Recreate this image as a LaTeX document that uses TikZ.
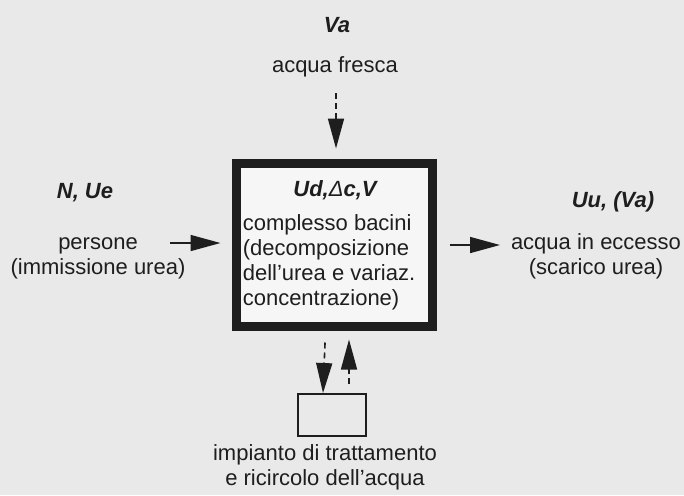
\documentclass[tikz,border=0pt]{standalone}
\usepackage{fontspec}
\setmainfont{Liberation Sans}
\usetikzlibrary{positioning, calc, arrows.meta}
\definecolor{paper}{HTML}{E9E9E9}
\definecolor{inkblack}{HTML}{1E1E1E}
\tikzset{
    plain text/.style={font=\fontsize{11}{12.5}\selectfont, align=center, inner sep=0pt, text=inkblack},
    var text/.style={font=\fontsize{11}{12.5}\selectfont\bfseries\itshape, inner sep=0pt, text=inkblack},
    flow arrow/.style={-{Triangle[length=15pt, width=8pt]}, line width=0.8pt, draw=inkblack},
    water arrow/.style={flow arrow, dash pattern=on 3pt off 2pt},
}

\begin{document}
\begin{tikzpicture}[x=0.5pt, y=-0.5pt]
    \fill[paper] (0,0) rectangle (684,495);
    \useasboundingbox (0,0) rectangle (684,495);
    % vasca principale
    \node[draw=inkblack, line width=4.5pt, fill=white!60!paper, minimum width=98pt, minimum height=81.5pt] (bacini) at (334.5,245) {};
    \node[var text] (udv) at (335,190) {Ud,{\mdseries\char"0394}c,V};
    \node[plain text, align=left] (bacinitxt) at (329,262) {complesso bacini\\(decomposizione\\dell'urea e variaz.\\concentrazione)};
    % ingressi e uscite
    \node[var text] (va) at (337,25) {Va};
    \node[plain text] (fresca) at (335,67) {acqua fresca};
    \node[var text] (nue) at (85,193) {N, Ue};
    \node[plain text] (persone) at (98,258) {persone\\(immissione urea)};
    \node[var text] (uuva) at (613,202) {Uu, (Va)};
    \node[plain text] (eccesso) at (596,256) {acqua in eccesso\\(scarico urea)};
    % impianto
    \node[draw=inkblack, line width=1pt, minimum width=34pt, minimum height=21pt] (impianto) at (332,415) {};
    \node[plain text] (impiantotxt) at (325,467) {impianto di trattamento\\e ricircolo dell'acqua};
    \coordinate (vin) at (336,93);
    \coordinate (pin) at (170,243);
    \coordinate (uout) at (500,245);
    \draw[water arrow, shorten >=5.25pt] (vin) -- (vin |- bacini.north);
    \draw[flow arrow, shorten >=5.75pt] (pin) -- (pin -| bacini.west);
    \draw[flow arrow, shorten <=6.25pt] (uout -| bacini.east) -- (uout);
    \draw[water arrow, shorten <=5.75pt] ([xshift=-4.5pt]bacini.south) -- ([xshift=-4.5pt]impianto.north);
    \draw[water arrow, shorten <=4.5pt, shorten >=4.25pt] ([xshift=8.5pt]impianto.north) -- ([xshift=8.5pt]impianto.north |- bacini.south);
\end{tikzpicture}
\end{document}
